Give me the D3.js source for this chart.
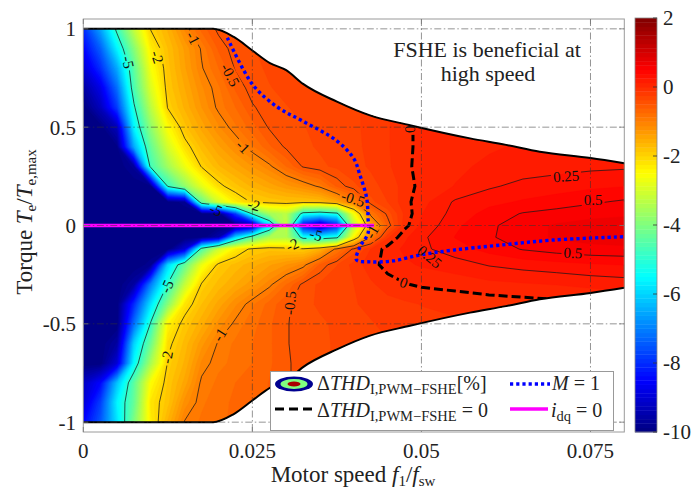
<!DOCTYPE html>
<html>
<head>
<meta charset="utf-8">
<script src="https://cdn.jsdelivr.net/npm/d3@7/dist/d3.min.js"></script>
<style>
  body { margin: 0; background: #fff; }
  svg text { fill: #222; }
</style>
</head>
<body>
<svg id="chart" width="695" height="496" font-family="'Liberation Serif', 'DejaVu Serif', 'Noto Serif', serif"></svg>
<script>
// ---- data -------------------------------------------------------------
// grid of motor speeds (f1/fsw) and torques (Te/Te,max)
const speeds = [0, 0.0025, 0.005, 0.0075, 0.01, 0.0125, 0.015, 0.0175, 0.02, 0.0225,
  0.025, 0.0275, 0.03, 0.0325, 0.035, 0.0375, 0.04, 0.0425, 0.045, 0.0475,
  0.05, 0.055, 0.06, 0.065, 0.07, 0.075, 0.08];
const torques = [-1, -0.9, -0.8, -0.7, -0.6, -0.5, -0.4, -0.3, -0.2, -0.12, -0.06, 0,
  0.06, 0.12, 0.2, 0.3, 0.4, 0.5, 0.6, 0.7, 0.8, 0.9, 1];

// ΔTHD (PWM - FSHE) in %, one row per torque, one column per speed
const thdRows = [
  [-8.5,-7.5,-5.8,-4.0,-2.3,-1.6,-0.98,-0.85,-0.78,-0.72,-0.68,-0.62,-0.55,-0.48,-0.42,-0.38,-0.34,-0.3,-0.26,-0.23,-0.2,-0.16,-0.13,-0.1,-0.08,-0.06,-0.05],
  [-9.0,-7.8,-5.6,-4.3,-2.2,-1.8,-1.2,-0.9,-0.8,-0.72,-0.68,-0.62,-0.55,-0.48,-0.42,-0.38,-0.34,-0.3,-0.26,-0.23,-0.2,-0.16,-0.13,-0.1,-0.08,-0.06,-0.05],
  [-9.2,-8.5,-6.2,-4.4,-2.5,-1.85,-1.45,-0.95,-0.85,-0.75,-0.7,-0.62,-0.52,-0.45,-0.4,-0.36,-0.32,-0.29,-0.26,-0.23,-0.2,-0.16,-0.13,-0.1,-0.08,-0.06,-0.05],
  [-10,-10,-9.0,-5.5,-3.5,-1.95,-1.6,-1.1,-0.9,-0.85,-0.75,-0.65,-0.52,-0.45,-0.4,-0.36,-0.32,-0.29,-0.26,-0.23,-0.2,-0.16,-0.13,-0.1,-0.08,-0.06,-0.05],
  [-10,-10,-9.6,-6.0,-4.2,-2.1,-1.7,-1.3,-0.97,-0.85,-0.75,-0.65,-0.51,-0.45,-0.4,-0.36,-0.32,-0.29,-0.26,-0.23,-0.2,-0.16,-0.13,-0.1,-0.08,-0.06,-0.05],
  [-10,-10,-10,-7.2,-4.9,-2.4,-1.85,-1.55,-1.2,-0.95,-0.8,-0.65,-0.51,-0.45,-0.4,-0.35,-0.3,-0.26,-0.22,-0.19,-0.17,-0.14,-0.12,-0.1,-0.08,-0.06,-0.05],
  [-10,-10,-10,-8.0,-5.8,-3.9,-2.2,-1.75,-1.45,-1.15,-0.9,-0.7,-0.53,-0.42,-0.35,-0.3,-0.26,-0.22,-0.18,-0.15,-0.12,-0.1,-0.08,-0.06,-0.04,-0.02,0.0],
  [-10,-10,-10,-9.6,-7.0,-4.95,-3.2,-1.95,-1.7,-1.5,-1.3,-1.05,-0.75,-0.45,-0.35,-0.3,-0.25,-0.15,-0.06,-0.01,0.02,0.05,0.09,0.11,0.13,0.16,0.18],
  [-10,-10,-10,-10,-9.8,-6.0,-4.3,-2.7,-1.9,-1.7,-1.55,-1.4,-1.25,-1.08,-0.6,-0.38,-0.2,-0.05,0.05,0.1,0.14,0.19,0.26,0.3,0.33,0.36,0.38],
  [-10,-10,-10,-10,-10,-10,-9.0,-4.6,-3.1,-2.3,-1.9,-1.8,-1.85,-1.9,-1.6,-0.9,-0.45,-0.12,0.06,0.15,0.22,0.32,0.42,0.51,0.56,0.59,0.6],
  [-10,-10,-10,-10,-10,-10,-10,-10,-9.5,-6.0,-4.5,-3.5,-3.4,-5.3,-5.5,-5.2,-2.4,-0.98,-0.15,0.1,0.22,0.38,0.48,0.58,0.64,0.67,0.69],
  [-10,-10,-10,-10,-10,-10,-10,-10,-10,-10,-9.6,-6.0,-3.2,-8.5,-9.6,-8.2,-3.4,-1.5,-0.6,-0.05,0.15,0.35,0.47,0.58,0.64,0.68,0.7],
  [-10,-10,-10,-10,-10,-10,-10,-10,-10,-7.8,-4.9,-3.6,-3.3,-5.3,-5.5,-5.2,-2.6,-0.9,-0.45,-0.1,0.12,0.3,0.42,0.51,0.55,0.58,0.6],
  [-10,-10,-10,-10,-10,-10,-9.8,-4.3,-3.0,-2.3,-1.95,-1.85,-1.8,-1.8,-1.75,-1.45,-0.98,-0.42,-0.25,-0.05,0.08,0.27,0.34,0.39,0.43,0.48,0.52],
  [-10,-10,-10,-10,-9.9,-4.9,-3.8,-2.8,-2.1,-1.8,-1.6,-1.45,-1.3,-1.15,-0.95,-0.6,-0.4,-0.3,-0.2,-0.08,0.05,0.13,0.23,0.29,0.32,0.35,0.37],
  [-10,-10,-10,-9.7,-4.7,-3.6,-2.7,-1.97,-1.65,-1.45,-1.25,-1.05,-0.75,-0.48,-0.4,-0.35,-0.3,-0.23,-0.15,-0.03,0.04,0.1,0.15,0.18,0.2,0.22,0.23],
  [-10,-10,-9.9,-6.5,-4.3,-3.0,-2.15,-1.7,-1.4,-1.15,-0.9,-0.65,-0.47,-0.4,-0.36,-0.32,-0.28,-0.22,-0.14,-0.03,0.03,0.07,0.11,0.14,0.16,0.18,0.2],
  [-10,-10,-9.3,-5.6,-3.8,-2.5,-1.8,-1.45,-1.15,-0.9,-0.68,-0.48,-0.42,-0.38,-0.35,-0.3,-0.27,-0.22,-0.14,-0.03,0.03,0.06,0.09,0.11,0.13,0.15,0.17],
  [-10,-9.3,-7.8,-5.1,-3.3,-1.97,-1.6,-1.25,-0.95,-0.75,-0.52,-0.42,-0.38,-0.35,-0.32,-0.3,-0.27,-0.22,-0.15,-0.05,0.02,0.05,0.08,0.1,0.12,0.14,0.15],
  [-9.6,-8.8,-7.2,-4.6,-2.9,-1.85,-1.5,-1.15,-0.9,-0.6,-0.43,-0.38,-0.35,-0.32,-0.3,-0.28,-0.25,-0.2,-0.15,-0.05,0.02,0.05,0.08,0.1,0.12,0.14,0.15],
  [-9.0,-8.0,-6.5,-4.4,-2.6,-1.8,-1.4,-1.02,-0.75,-0.48,-0.4,-0.36,-0.33,-0.3,-0.3,-0.28,-0.25,-0.2,-0.15,-0.05,0.02,0.05,0.08,0.1,0.12,0.14,0.15],
  [-8.5,-7.4,-5.6,-3.9,-2.3,-1.75,-1.35,-0.97,-0.6,-0.42,-0.38,-0.35,-0.33,-0.3,-0.3,-0.28,-0.25,-0.2,-0.15,-0.05,0.02,0.05,0.08,0.1,0.12,0.14,0.15],
  [-8.0,-6.6,-4.8,-3.2,-1.97,-1.6,-1.1,-0.7,-0.45,-0.4,-0.35,-0.33,-0.3,-0.3,-0.3,-0.28,-0.25,-0.2,-0.15,-0.05,0.02,0.05,0.08,0.1,0.12,0.14,0.15]
];

// torque limit (symmetric for motoring / generating)
const envSpeed  = [0, 0.0192, 0.0222, 0.025, 0.0276, 0.03, 0.0325, 0.0375, 0.0424, 0.0483, 0.0572, 0.0625, 0.0675, 0.075, 0.08];
const envTorque = [1, 1, 0.96, 0.89, 0.826, 0.79, 0.72, 0.63, 0.56, 0.51, 0.443, 0.41, 0.375, 0.343, 0.317];

// modulation index M = 1 boundary
const m1Speed  = [0.0213, 0.0251, 0.0288, 0.0325, 0.0375, 0.0400, 0.0409, 0.0419, 0.0421, 0.0421, 0.0409, 0.0404, 0.0424, 0.0458, 0.0498, 0.0547, 0.0616, 0.0695, 0.0800];
const m1Torque = [0.955, 0.714, 0.600, 0.530, 0.430, 0.340, 0.257, 0.140, 0.040, -0.040, -0.110, -0.175, -0.185, -0.180, -0.150, -0.125, -0.100, -0.074, -0.057];

// idq = 0 operating line (zero torque)
const idqSpeed  = [0, 0.043];
const idqTorque = [0, 0];

const xTicks = [0, 0.025, 0.05, 0.075];
const xTickLabels = ["0", "0.025", "0.05", "0.075"];
const yTicks = [-1, -0.5, 0, 0.5, 1];
const yTickLabels = ["-1", "-0.5", "0", "0.5", "1"];
const cbTicks = [2, 0, -2, -4, -6, -8, -10];
const cbTickLabels = ["2", "0", "-2", "-4", "-6", "-8", "-10"];

const lineLevels = [-5, -2, -1, -0.5, 0.25, 0.5];

// inline contour labels: text, speed, torque, rotation (deg)
const contourLabels = [
  ["-5", 0.0066, 0.83, 78], ["-2", 0.0109, 0.856, 72], ["-1", 0.0162, 0.953, 62],
  ["-0.5", 0.0217, 0.765, 62], ["-1", 0.0236, 0.40, 45], ["-5", 0.0196, 0.079, 22],
  ["-2", 0.0252, 0.104, 15], ["-0.5", 0.0399, 0.135, 18], ["-5", 0.0344, -0.048, 15],
  ["-2", 0.0309, -0.099, -25], ["-1", 0.0427, -0.033, -60], ["0", 0.0483, 0.49, 90],
  ["0", 0.0474, -0.29, 20], ["0.25", 0.0714, 0.25, -4], ["0.5", 0.0754, 0.13, 0],
  ["0.5", 0.0724, -0.14, 3], ["0.25", 0.0512, -0.16, 40], ["-5", 0.0124, -0.31, -65],
  ["-2", 0.0124, -0.67, -80], ["-1", 0.0202, -0.556, -58], ["-0.5", 0.0306, -0.394, -85]
];

// ---- layout -----------------------------------------------------------
const svg = d3.select("#chart");
const plot = { left: 83.3, right: 624.3, top: 19, bottom: 432 };
const x = d3.scaleLinear().domain([0, 0.08]).range([plot.left, plot.right]);
const y = d3.scaleLinear().domain([-1.05, 1.05]).range([plot.bottom, plot.top]);

function jet(v) {
  const t = (v + 10) / 12;
  const c = u => Math.max(0, Math.min(1, u));
  const r = c(Math.min(4 * t - 1.5, -4 * t + 4.5));
  const g = c(Math.min(4 * t - 0.5, -4 * t + 3.5));
  const b = c(Math.min(4 * t + 0.5, -4 * t + 2.5));
  return d3.rgb(r * 255, g * 255, b * 255).formatHex();
}

// grid index -> data coordinates (d3.contours puts sample i at i + 0.5)
const nx = speeds.length, ny = torques.length;
const values = thdRows.flat();
const colIdx = d3.scaleLinear().domain(d3.range(nx)).range(speeds).clamp(true);
const rowIdx = d3.scaleLinear().domain(d3.range(ny)).range(torques).clamp(true);
const gx = c => x(colIdx(c - 0.5));
const gy = r => y(rowIdx(r - 0.5));

function areaPath(mp) {
  return mp.coordinates.map(poly => poly.map(ring =>
    "M" + ring.map(p => gx(p[0]).toFixed(2) + "," + gy(p[1]).toFixed(2)).join("L") + "Z"
  ).join("")).join("");
}
// iso-line path without the segments that run along the grid border
function isoPath(mp) {
  let d = "";
  const onBorder = (p, q) =>
    (p[0] === 0 && q[0] === 0) || (p[0] === nx && q[0] === nx) ||
    (p[1] === 0 && q[1] === 0) || (p[1] === ny && q[1] === ny);
  mp.coordinates.forEach(poly => poly.forEach(ring => {
    let pen = false;
    for (let i = 0; i < ring.length; i++) {
      const p = ring[i], q = ring[(i + 1) % ring.length];
      if (p[0] === q[0] && p[1] === q[1]) continue;
      if (onBorder(p, q)) { pen = false; continue; }
      if (!pen) { d += "M" + gx(p[0]).toFixed(2) + "," + gy(p[1]).toFixed(2); pen = true; }
      d += "L" + gx(q[0]).toFixed(2) + "," + gy(q[1]).toFixed(2);
    }
  }));
  return d;
}

const defs = svg.append("defs");

// torque limit region
const env = envSpeed.map((s, i) => ({ s, t: envTorque[i] }));
const envArea = d3.area().x(d => x(d.s)).y0(d => y(-d.t)).y1(d => y(d.t)).curve(d3.curveMonotoneX);
defs.append("clipPath").attr("id", "envClip").append("path").attr("d", envArea(env));

// ---- filled contours --------------------------------------------------
const step = 0.125;
const fillLevels = d3.range(-10, 2, step);
const bands = d3.contours().size([nx, ny]).thresholds(fillLevels)(values);

const field = svg.append("g").attr("clip-path", "url(#envClip)");
field.append("rect")
  .attr("x", plot.left).attr("y", plot.top)
  .attr("width", plot.right - plot.left).attr("height", plot.bottom - plot.top)
  .attr("fill", jet(-10 + step / 2));
field.selectAll("path.band").data(bands).join("path")
  .attr("class", "band")
  .attr("d", areaPath)
  .attr("fill", d => jet(d.value + step / 2))
  .attr("stroke", d => jet(d.value + step / 2))
  .attr("stroke-width", 0.3);

// ---- contour lines with gaps for their labels --------------------------
const labelLayer = svg.append("g");
const labelNodes = contourLabels.map(([txt, s, t, a]) => {
  const g = labelLayer.append("g").attr("transform", `translate(${x(s)},${y(t)}) rotate(${a})`);
  const tx = g.append("text").attr("text-anchor", "middle").attr("dy", "0.33em")
    .attr("font-size", 15).style("fill", "#111").text(txt);
  return { g, tx, s, t, a };
});
const mask = defs.append("mask").attr("id", "labelGaps").attr("maskUnits", "userSpaceOnUse")
  .attr("x", 0).attr("y", 0).attr("width", 695).attr("height", 496);
mask.append("rect").attr("width", 695).attr("height", 496).attr("fill", "#fff");
labelNodes.forEach(n => {
  const w = n.tx.node().getComputedTextLength() + 4;
  mask.append("rect")
    .attr("transform", `translate(${x(n.s)},${y(n.t)}) rotate(${n.a})`)
    .attr("x", -w / 2).attr("y", -7).attr("width", w).attr("height", 14).attr("fill", "#000");
});

const lines = svg.insert("g", () => labelLayer.node())
  .attr("clip-path", "url(#envClip)");
const linesInner = lines.append("g").attr("mask", "url(#labelGaps)");
const isoLines = d3.contours().size([nx, ny]).thresholds(lineLevels)(values);
linesInner.selectAll("path.iso").data(isoLines).join("path")
  .attr("class", "iso")
  .attr("d", isoPath)
  .attr("fill", "none").attr("stroke", "#1a1a1a").attr("stroke-width", 0.75);
const zeroLine = d3.contours().size([nx, ny]).thresholds([0])(values);
linesInner.selectAll("path.zero").data(zeroLine).join("path")
  .attr("class", "zero")
  .attr("d", isoPath)
  .attr("fill", "none").attr("stroke", "#000").attr("stroke-width", 3)
  .attr("stroke-dasharray", "9 4");

// ---- torque limit outline --------------------------------------------
const upper = d3.line().x(d => x(d.s)).y(d => y(d.t)).curve(d3.curveMonotoneX);
const lower = d3.line().x(d => x(d.s)).y(d => y(-d.t)).curve(d3.curveMonotoneX);
const outline = svg.append("g");
outline.append("path").attr("d", upper(env)).attr("fill", "none").attr("stroke", "#000").attr("stroke-width", 2);
outline.append("path").attr("d", lower(env)).attr("fill", "none").attr("stroke", "#000").attr("stroke-width", 2);

// ---- M = 1 and idq = 0 ------------------------------------------------
const m1 = m1Speed.map((s, i) => [x(s), y(m1Torque[i])]);
svg.append("path")
  .attr("d", d3.line().curve(d3.curveCatmullRom.alpha(0.5))(m1))
  .attr("fill", "none").attr("stroke", "#0000ff").attr("stroke-width", 3.4)
  .attr("stroke-dasharray", "3.2 3");
const idq = idqSpeed.map((s, i) => [x(s), y(idqTorque[i])]);
svg.append("path").attr("d", d3.line()(idq))
  .attr("fill", "none").attr("stroke", "#ff00ff").attr("stroke-width", 3.5);

// ---- grid (drawn on top) ---------------------------------------------
const grid = svg.append("g").attr("stroke", "#333").attr("stroke-opacity", 0.75)
  .attr("stroke-width", 0.7).attr("stroke-dasharray", "7 2.5 1.5 2.5");
xTicks.filter(v => v > 0).forEach(v => grid.append("line")
  .attr("x1", x(v)).attr("x2", x(v)).attr("y1", plot.top).attr("y2", plot.bottom));
yTicks.forEach(v => grid.append("line")
  .attr("x1", plot.left).attr("x2", plot.right).attr("y1", y(v)).attr("y2", y(v)));

// bring contour labels to the top
labelLayer.raise();

// ---- axes frame and tick labels -------------------------------------
svg.append("rect").attr("x", plot.left).attr("y", plot.top)
  .attr("width", plot.right - plot.left).attr("height", plot.bottom - plot.top)
  .attr("fill", "none").attr("stroke", "#9a9a9a").attr("stroke-width", 1);
const tk = svg.append("g").attr("stroke", "#777").attr("stroke-width", 0.8);
xTicks.forEach(v => {
  tk.append("line").attr("x1", x(v)).attr("x2", x(v)).attr("y1", plot.bottom).attr("y2", plot.bottom - 5);
  tk.append("line").attr("x1", x(v)).attr("x2", x(v)).attr("y1", plot.top).attr("y2", plot.top + 5);
});
yTicks.forEach(v => {
  tk.append("line").attr("x1", plot.left).attr("x2", plot.left + 5).attr("y1", y(v)).attr("y2", y(v));
  tk.append("line").attr("x1", plot.right).attr("x2", plot.right - 5).attr("y1", y(v)).attr("y2", y(v));
});

const fs = 21;
xTicks.forEach((v, i) => svg.append("text").attr("x", x(v)).attr("y", 458)
  .attr("text-anchor", "middle").attr("font-size", fs).text(xTickLabels[i]));
yTicks.forEach((v, i) => svg.append("text").attr("x", 76).attr("y", y(v)).attr("dy", "0.35em")
  .attr("text-anchor", "end").attr("font-size", fs).text(yTickLabels[i]));

// axis titles
const ts = 23, ss = 15;
const xl = svg.append("text").attr("x", 353).attr("y", 482).attr("text-anchor", "middle").attr("font-size", ts);
xl.append("tspan").text("Motor speed ");
xl.append("tspan").attr("font-style", "italic").text("f");
xl.append("tspan").attr("font-size", ss).attr("dy", 4).text("1");
xl.append("tspan").attr("dy", -4).text("/");
xl.append("tspan").attr("font-style", "italic").text("f");
xl.append("tspan").attr("font-size", ss).attr("dy", 4).text("sw");

const yl = svg.append("text").attr("transform", "translate(32,222) rotate(-90)")
  .attr("text-anchor", "middle").attr("font-size", ts);
yl.append("tspan").text("Torque ");
yl.append("tspan").attr("font-style", "italic").text("T");
yl.append("tspan").attr("font-size", ss).attr("dy", 4).text("e");
yl.append("tspan").attr("dy", -4).text("/");
yl.append("tspan").attr("font-style", "italic").text("T");
yl.append("tspan").attr("font-size", ss).attr("dy", 4).text("e,max");

// annotation
svg.append("text").attr("x", 487).attr("y", 57).attr("text-anchor", "middle").attr("font-size", 22)
  .text("FSHE is beneficial at");
svg.append("text").attr("x", 488).attr("y", 81).attr("text-anchor", "middle").attr("font-size", 22)
  .text("high speed");

// ---- colorbar ----------------------------------------------------------
const cb = { x: 635, w: 22, top: 18, bottom: 432 };
const cy = d3.scaleLinear().domain([-10, 2]).range([cb.bottom, cb.top]);
const cbar = svg.append("g");
cbar.selectAll("rect").data(fillLevels).join("rect")
  .attr("x", cb.x).attr("width", cb.w)
  .attr("y", d => cy(d + step)).attr("height", d => cy(d) - cy(d + step) + 0.4)
  .attr("fill", d => jet(d + step / 2));
svg.append("rect").attr("x", cb.x).attr("y", cb.top).attr("width", cb.w).attr("height", cb.bottom - cb.top)
  .attr("fill", "none").attr("stroke", "#8a8a8a").attr("stroke-width", 0.8);
cbTicks.forEach((v, i) => {
  svg.append("line").attr("x1", cb.x + cb.w - 4).attr("x2", cb.x + cb.w).attr("y1", cy(v)).attr("y2", cy(v))
    .attr("stroke", "#333").attr("stroke-width", 0.8);
  svg.append("text").attr("x", 663).attr("y", cy(v)).attr("dy", "0.35em").attr("font-size", fs).text(cbTickLabels[i]);
});

// ---- legend ----------------------------------------------------------------
const lg = svg.append("g");
lg.append("rect").attr("x", 270.5).attr("y", 371.5).attr("width", 343).attr("height", 59)
  .attr("fill", "#fff").attr("stroke", "#999").attr("stroke-width", 1);
lg.append("ellipse").attr("cx", 294).attr("cy", 384).attr("rx", 19).attr("ry", 7.5).attr("fill", jet(-9.8));
lg.append("ellipse").attr("cx", 294).attr("cy", 384).attr("rx", 13.5).attr("ry", 5).attr("fill", jet(-4));
lg.append("ellipse").attr("cx", 294).attr("cy", 384).attr("rx", 6.5).attr("ry", 2.6).attr("fill", jet(1.5));
lg.append("line").attr("x1", 275).attr("x2", 313).attr("y1", 409).attr("y2", 409)
  .attr("stroke", "#000").attr("stroke-width", 3).attr("stroke-dasharray", "9 5");
lg.append("line").attr("x1", 510).attr("x2", 550).attr("y1", 384).attr("y2", 384)
  .attr("stroke", "#0000ff").attr("stroke-width", 3.4).attr("stroke-dasharray", "3.2 3");
lg.append("line").attr("x1", 510).attr("x2", 548).attr("y1", 409).attr("y2", 409)
  .attr("stroke", "#ff00ff").attr("stroke-width", 3.5);

function thdLabel(yBase, tail) {
  const t = lg.append("text").attr("x", 317).attr("y", yBase).attr("font-size", 20);
  t.append("tspan").text("Δ");
  t.append("tspan").attr("font-style", "italic").text("THD");
  t.append("tspan").attr("font-size", 14.5).attr("dy", 4).text("I,PWM\u2212FSHE");
  t.append("tspan").attr("dy", -4).text(tail);
}
thdLabel(390, "[%]");
thdLabel(417, " = 0");
const mt = lg.append("text").attr("x", 552).attr("y", 390).attr("font-size", 20);
mt.append("tspan").attr("font-style", "italic").text("M");
mt.append("tspan").text(" = 1");
const it = lg.append("text").attr("x", 551).attr("y", 417).attr("font-size", 20);
it.append("tspan").attr("font-style", "italic").text("i");
it.append("tspan").attr("font-size", 14.5).attr("dy", 4).text("dq");
it.append("tspan").attr("dy", -4).text(" = 0");
</script>
</body>
</html>
